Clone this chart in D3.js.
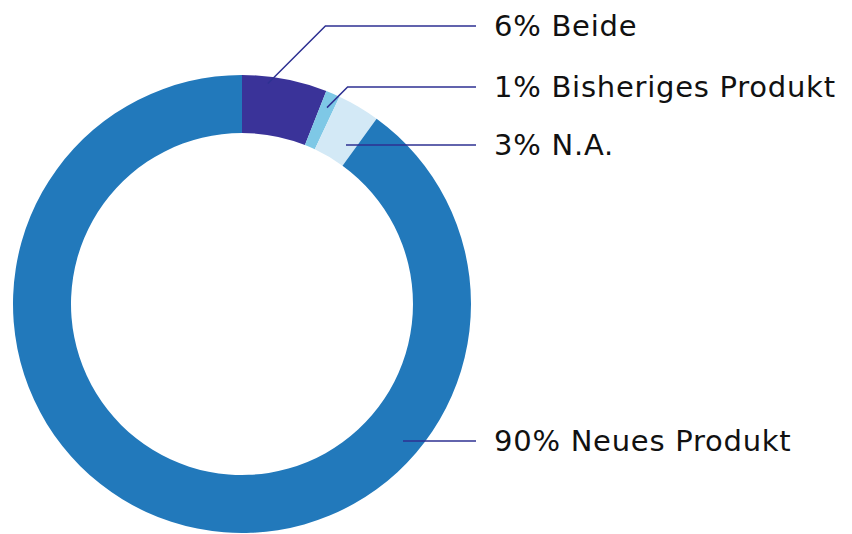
<!DOCTYPE html>
<html>
<head>
<meta charset="utf-8">
<script src="https://cdn.jsdelivr.net/npm/d3@7"></script>
<style>
html,body{margin:0;padding:0;background:#fff;}
svg{display:block;}
text{font-family:"DejaVu Sans", sans-serif;}
</style>
</head>
<body>
<div id="chart"></div>
<script>
const categories = ["Beide", "Bisheriges Produkt", "N.A.", "Neues Produkt"];
const values = [6, 1, 3, 90];
const labels = ["6% Beide", "1% Bisheriges Produkt", "3% N.A.", "90% Neues Produkt"];
const colors = ["#3a3399", "#7ec8e6", "#d3e9f6", "#2279bb"];

const W = 852, H = 534;
const cx = 242, cy = 304, rOuter = 229, rInner = 171;

const svg = d3.select("#chart").append("svg").attr("width", W).attr("height", H);
const g = svg.append("g").attr("transform", `translate(${cx},${cy})`);

const pie = d3.pie().sort(null).value(d => d)(values);
const arc = d3.arc().innerRadius(rInner).outerRadius(rOuter);

g.selectAll("path.slice").data(pie).enter().append("path")
  .attr("class", "slice")
  .attr("d", arc)
  .attr("fill", (d, i) => colors[i]);

// leader line layout
const labelY = [26, 87, 145, 441];
const anchorR = [222, 214, 0, 0];
const anchorFrac = [0.31, 0.5, 0, 0];
const lineEndX = 476, textX = 494;

const leaders = svg.append("g");
pie.forEach((d, i) => {
  let pts;
  if (i === 0 || i === 1) {
    const a = d.startAngle + anchorFrac[i] * (d.endAngle - d.startAngle);
    const ax = cx + anchorR[i] * Math.sin(a);
    const ay = cy - anchorR[i] * Math.cos(a);
    const ex = ax + (ay - labelY[i]);
    pts = [[ax, ay], [ex, labelY[i]], [lineEndX, labelY[i]]];
  } else if (i === 2) {
    pts = [[346, labelY[i]], [lineEndX, labelY[i]]];
  } else {
    pts = [[403, labelY[i]], [lineEndX, labelY[i]]];
  }
  leaders.append("path")
    .attr("d", d3.line()(pts))
    .attr("fill", "none")
    .attr("stroke", "#2e3192")
    .attr("stroke-width", 1.5);
  svg.append("text")
    .attr("x", textX)
    .attr("y", labelY[i])
    .attr("dy", "0.36em")
    .attr("font-size", 29)
    .attr("letter-spacing", 0.75)
    .attr("fill", "#111")
    .text(labels[i]);
});
</script>
</body>
</html>
